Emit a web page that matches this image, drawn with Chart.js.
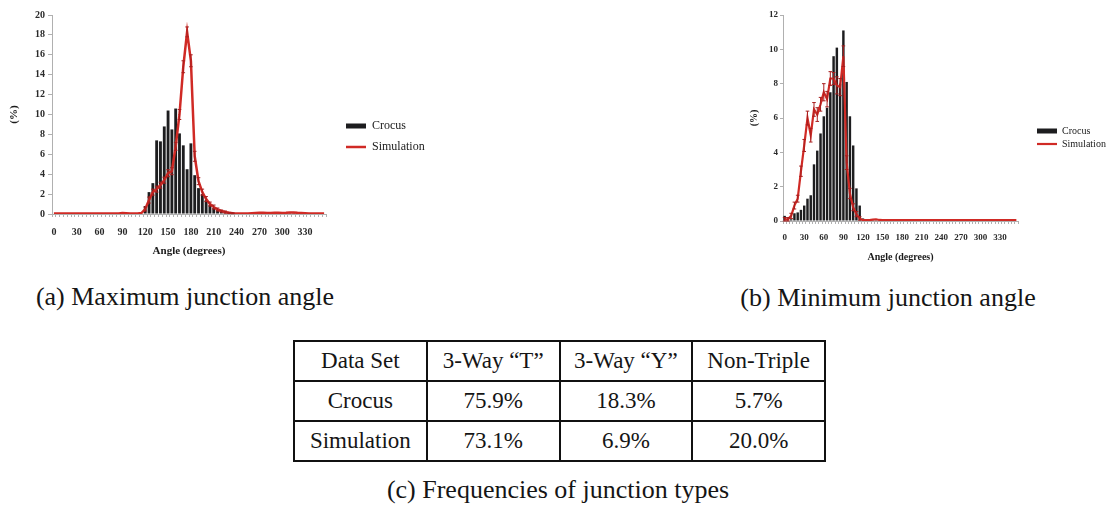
<!DOCTYPE html>
<html><head><meta charset="utf-8">
<script src="https://cdn.jsdelivr.net/npm/chart.js@4.4.1/dist/chart.umd.min.js"></script>
<style>
html,body{margin:0;padding:0;background:#fff;width:1110px;height:506px;overflow:hidden;position:relative;font-family:"Liberation Serif",serif;color:#111;}
#ca{position:absolute;left:0;top:0;}
#cb{position:absolute;left:740px;top:0;}
.cap{position:absolute;white-space:nowrap;font-family:"Liberation Serif",serif;font-size:26px;color:#151515;transform:translate(-50%,-50%);}
#tbl{position:absolute;left:293px;top:340px;width:533px;height:120px;border-collapse:collapse;table-layout:fixed;}
#tbl td{border:2px solid #111;text-align:center;font-family:"Liberation Serif",serif;font-size:23px;color:#151515;padding:0;height:38px;}
</style></head>
<body>
<canvas id="ca" width="440" height="265"></canvas>
<canvas id="cb" width="370" height="272"></canvas>
<div class="cap" id="capA" style="left:185px;top:297px;">(a) Maximum junction angle</div>
<div class="cap" id="capB" style="left:888px;top:298px;">(b) Minimum junction angle</div>
<table id="tbl"></table>
<div class="cap" id="capC" style="left:558px;top:490px;">(c) Frequencies of junction types</div>
<script>
// ---------- data ----------
const categories = ['0','5','10','15','20','25','30','35','40','45','50','55','60','65','70','75','80','85','90','95','100','105','110','115','120','125','130','135','140','145','150','155','160','165','170','175','180','185','190','195','200','205','210','215','220','225','230','235','240','245','250','255','260','265','270','275','280','285','290','295','300','305','310','315','320','325','330','335','340','345','350','355'];
const tickLabels = ['0','30','60','90','120','150','180','210','240','270','300','330'];

// (a) maximum junction angle
const crocusMax = [0,0,0,0,0,0,0,0,0,0,0,0,0,0,0,0,0,0.05,
  0.12,0.08,0,0,0,0.05,
  0.8,2.2,3.1,7.4,7.3,8.8,10.4,8.5,10.6,8.1,6.9,4.5,7.1,3.9,2.6,2.0,1.4,0.9,0.6,0.4,0.3,0.2,0.1,0.05,
  0.05,0.05,0.05,0.05,0.1,0.15,0.2,0.15,0.2,0.15,0.1,0.15,0.2,0.15,0.2,0.15,0.2,0.15,0.1,0.05,0.05,0,0,0];
const simMax = [0.05,0.05,0.05,0.05,0.05,0.05,0.05,0.05,0.05,0.05,0.05,0.05,0.05,0.05,0.05,0.05,0.05,0.05,
  0.1,0.08,0.05,0.05,0.05,0.1,
  0.5,1.4,2.2,2.5,2.9,3.4,4.1,4.3,6.8,10.0,14.8,18.3,15.4,5.8,3.3,2.2,1.5,1.0,0.7,0.45,0.3,0.2,0.12,0.08,
  0.05,0.05,0.05,0.05,0.08,0.1,0.12,0.12,0.1,0.1,0.12,0.12,0.1,0.12,0.15,0.15,0.12,0.1,0.08,0.05,0.05,0.05,0.05,0.05];
const errMax = [0,0,0,0,0,0,0,0,0,0,0,0,0,0,0,0,0,0,
  0,0,0,0,0,0,
  0.2,0.3,0.3,0.3,0.3,0.3,0.35,0.35,0.4,0.5,0.6,0.5,0.6,0.5,0.35,0.3,0.25,0.2,0.2,0.15,0.1,0.1,0.05,0.05,
  0,0,0,0,0,0,0,0,0,0,0,0,0,0,0,0,0,0,0,0,0,0,0,0];

// (b) minimum junction angle
const crocusMin = [0.3,0.05,0.1,0.45,0.5,0.65,0.9,1.3,1.5,3.3,4.1,5.1,6.1,6.6,7.5,9.6,10.1,8.0,11.1,8.1,6.1,4.4,1.9,0.9,0.15,0.05,0,0.05,0.05,
  0,0,0,0,0,0,0,0,0,0,0,0,0,0,0,0,0,0,0,0,0,0,0,0,0,0,0,0,0,0,0,0,0,0,0,0,0,0,0,0,0,0,0];
const simMin = [0.1,0.1,0.3,0.9,1.3,2.9,4.4,6.0,5.0,6.5,6.2,6.8,7.5,7.1,8.3,8.3,7.9,7.8,9.6,3.4,1.6,0.8,0.4,0.15,0.05,0.05,0.05,0.08,0.1,0.06,
  0.05,0.05,0.05,0.05,0.05,0.05,0.05,0.05,0.05,0.05,0.05,0.05,0.05,0.05,0.05,0.05,0.05,0.05,0.05,0.05,0.05,0.05,0.05,0.05,0.05,0.05,0.05,0.05,0.05,0.05,0.05,0.05,0.05,0.05,0.05,0.05,0.05,0.05,0.05,0.05,0.05,0.05];
const errMin = [0.1,0.1,0.15,0.2,0.2,0.3,0.35,0.4,0.4,0.4,0.4,0.4,0.5,0.45,0.4,0.35,0.5,0.5,0.6,0.4,0.3,0.2,0.15,0.1,
  0,0,0,0,0,0,0,0,0,0,0,0,0,0,0,0,0,0,0,0,0,0,0,0,0,0,0,0,0,0,0,0,0,0,0,0,0,0,0,0,0,0,0,0,0,0,0,0,0,0,0,0];

const seriesNames = ['Crocus','Simulation'];

// (c) table
const tableHeader = ['Data Set','3-Way “T”','3-Way “Y”','Non-Triple'];
const dataSets = ['Crocus','Simulation'];
const wayT = ['75.9%','73.1%'];
const wayY = ['18.3%','6.9%'];
const nonTriple = ['5.7%','20.0%'];

// ---------- table ----------
(function(){
  const t = document.getElementById('tbl');
  let h = '<tr>' + tableHeader.map(s => '<td>' + s + '</td>').join('') + '</tr>';
  dataSets.forEach((d, i) => {
    h += '<tr><td>' + d + '</td><td>' + wayT[i] + '</td><td>' + wayY[i] + '</td><td>' + nonTriple[i] + '</td></tr>';
  });
  t.innerHTML = h;
})();

// ---------- plugins ----------
const errorBars = {
  id: 'errorBars',
  afterDatasetsDraw(chart, args, o) {
    const meta = chart.getDatasetMeta(1);
    const ys = chart.scales.y;
    const vals = chart.data.datasets[1].data;
    const ctx = chart.ctx;
    ctx.save();
    ctx.strokeStyle = o.color; ctx.lineWidth = 1;
    meta.data.forEach((pt, i) => {
      const e = o.errors[i];
      if (!e) return;
      const y1 = ys.getPixelForValue(vals[i] + e);
      const y2 = ys.getPixelForValue(Math.max(0, vals[i] - e));
      ctx.beginPath();
      ctx.moveTo(pt.x, y1); ctx.lineTo(pt.x, y2);
      ctx.moveTo(pt.x - o.cap, y1); ctx.lineTo(pt.x + o.cap, y1);
      ctx.moveTo(pt.x - o.cap, y2); ctx.lineTo(pt.x + o.cap, y2);
      ctx.stroke();
    });
    ctx.restore();
  }
};
const legendPlace = {
  id: 'legendPlace',
  afterInit(chart, args, o) {
    const lg = chart.legend;
    const fit = lg.fit;
    lg.fit = function () { fit.call(this); this.width = o.boxW; };
  },
  afterLayout(chart, args, o) {
    const lg = chart.legend;
    const pad = lg.options.labels.padding;
    lg.left = o.x - pad; lg.right = lg.left + 200;
    lg.top = o.y - pad; lg.bottom = lg.top + 200;
  }
};

const SERIF = '"Liberation Serif", serif';
function makeChart(id, cfg) {
  const tickFont = {family: SERIF, size: cfg.tickSize, weight: 'bold'};
  const titleFont = {family: SERIF, size: cfg.titleSize, weight: 'bold'};
  return new Chart(document.getElementById(id), {
    data: {
      labels: categories,
      datasets: [
        {type: 'bar', label: seriesNames[0], data: cfg.bars, backgroundColor: '#1d1d1f', borderWidth: 0,
         barPercentage: 0.75, categoryPercentage: 1, order: 2},
        {type: 'line', label: seriesNames[1], data: cfg.line, borderColor: '#d02a25', backgroundColor: '#d02a25',
         borderWidth: cfg.lineW, pointRadius: 0, tension: 0, order: 1}
      ]
    },
    options: {
      responsive: false, animation: false, devicePixelRatio: 1,
      layout: {padding: {top: 15, left: 0, right: 0, bottom: 0}},
      scales: {
        x: {
          type: 'category', offset: true,
          grid: {display: true, drawOnChartArea: false, drawTicks: true, tickLength: 3, color: '#b0b0b0'},
          border: {display: true, color: '#b0b0b0'},
          ticks: {autoSkip: false, maxRotation: 0, minRotation: 0, padding: cfg.xTickPad, color: '#2a2a2a', font: tickFont,
                  callback: (v, i) => tickLabels.includes(categories[i]) ? categories[i] : ''},
          title: {display: true, text: 'Angle (degrees)', color: '#1a1a1a', font: titleFont, padding: {top: 0, bottom: cfg.xTitlePad}},
          afterFit: s => { s.height = cfg.xAxisH; }
        },
        y: {
          min: 0, max: cfg.yMax,
          grid: {display: true, drawOnChartArea: false, drawTicks: true, tickLength: cfg.yTickLen, color: '#b0b0b0'},
          border: {display: true, color: '#b0b0b0'},
          ticks: {stepSize: 2, padding: cfg.yTickPad, color: '#2a2a2a', font: tickFont},
          title: {display: true, text: '(%)', color: '#1a1a1a', font: titleFont, padding: {top: cfg.yTitlePad, bottom: 0}},
          afterFit: s => { s.width = cfg.yAxisW; }
        }
      },
      plugins: {
        tooltip: {enabled: false},
        legend: {
          display: true, position: 'right', align: 'start',
          labels: {
            usePointStyle: true, pointStyleWidth: 20, boxHeight: cfg.legBoxH, padding: cfg.legPad, color: '#1a1a1a',
            font: {family: SERIF, size: cfg.legSize},
            generateLabels(chart) {
              const items = Chart.defaults.plugins.legend.labels.generateLabels(chart);
              items.forEach(it => { it.pointStyle = it.datasetIndex === 0 ? 'rect' : 'line'; });
              return items.sort((a, b) => a.datasetIndex - b.datasetIndex);
            }
          }
        },
        errorBars: {errors: cfg.err, color: '#a81e1e', cap: 1.8},
        legendPlace: {boxW: cfg.legBoxW, x: cfg.legX, y: cfg.legY}
      }
    },
    plugins: [errorBars, legendPlace]
  });
}

makeChart('ca', {
  bars: crocusMax, line: simMax, err: errMax, yMax: 20, lineW: 2.5,
  tickSize: 10, titleSize: 11, xTickPad: 9, xTitlePad: 7, xAxisH: 51,
  yTickLen: 4, yTickPad: 3, yTitlePad: 8, yAxisW: 52,
  legBoxH: 5, legPad: 9, legSize: 12, legBoxW: 114, legX: 346, legY: 120
});
makeChart('cb', {
  bars: crocusMin, line: simMin, err: errMin, yMax: 12, lineW: 2.2,
  tickSize: 9, titleSize: 10, xTickPad: 8, xTitlePad: 9, xAxisH: 51,
  yTickLen: 3, yTickPad: 2, yTitlePad: 8, yAxisW: 43,
  legBoxH: 5, legPad: 3, legSize: 10, legBoxW: 92, legX: 297, legY: 126
});
</script>
</body></html>
